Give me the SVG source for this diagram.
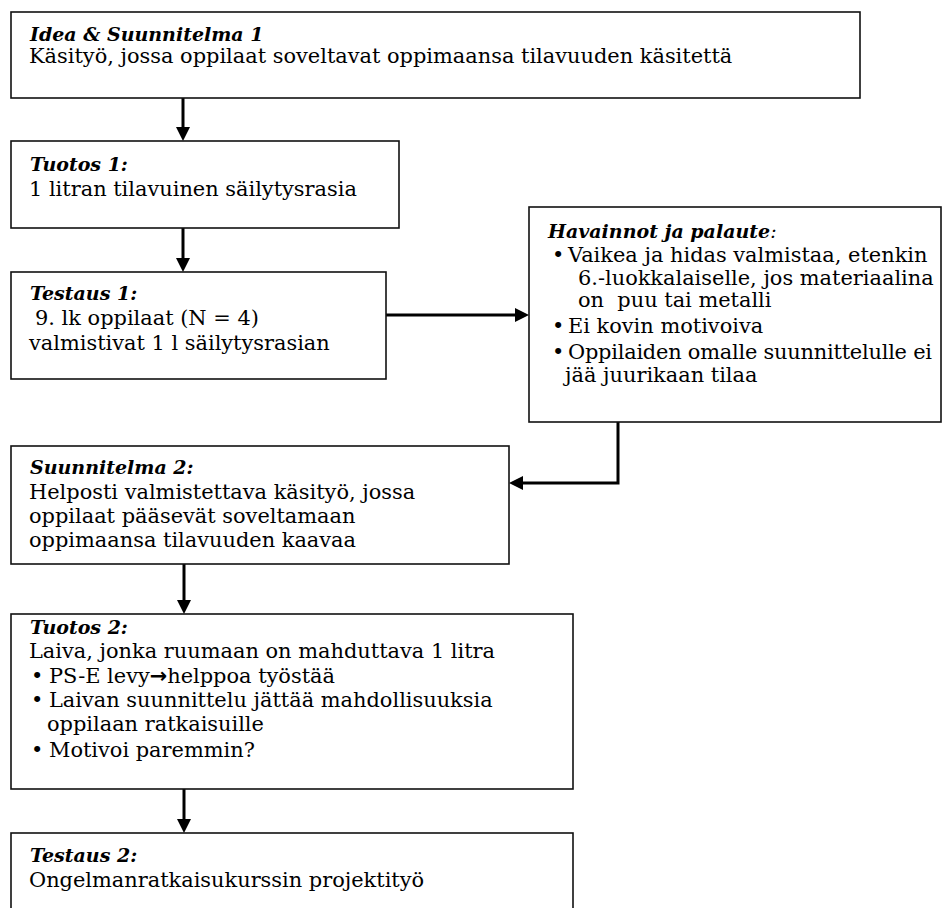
<svg xmlns="http://www.w3.org/2000/svg" width="950" height="908" viewBox="0 0 950 908">
  <defs>
    <marker id="head" viewBox="0 0 14 14" markerWidth="14" markerHeight="14" markerUnits="userSpaceOnUse" refX="0" refY="7" orient="auto">
      <path d="M0,0 L14,7 L0,14 Z" fill="#000"/>
    </marker>
    <style>
      .box { fill: #fff; stroke: #111; stroke-width: 1.6; }
      .t { font-family: "DejaVu Serif", "Liberation Serif", serif; font-size: 20.9px; fill: #000; }
      .h { font-style: italic; font-weight: bold; font-size: 19px; }
      .plain { font-weight: normal; }
      .arrowglyph { font-family: "DejaVu Sans", sans-serif; font-weight: bold; }
      .wire { fill: none; stroke: #000; stroke-width: 3; marker-end: url(#head); }
    </style>
  </defs>

  <rect x="0" y="0" width="950" height="908" fill="#fff"/>

  <!-- connectors -->
  <g id="connectors">
    <path class="wire" d="M183,98 V127"/>
    <path class="wire" d="M183,228 V258"/>
    <path class="wire" d="M386,315 H515"/>
    <path class="wire" d="M618,422 V483 H523"/>
    <path class="wire" d="M184,564 V600"/>
    <path class="wire" d="M184,789 V819"/>
  </g>

  <g id="idea-suunnitelma-1">
    <rect class="box" x="11" y="12" width="849" height="86"/>
    <text class="t h" x="30" y="41">Idea &amp; Suunnitelma 1</text>
    <text class="t" x="29" y="63">Käsityö, jossa oppilaat soveltavat oppimaansa tilavuuden käsitettä</text>
  </g>

  <g id="tuotos-1">
    <rect class="box" x="11" y="141" width="388" height="87"/>
    <text class="t h" x="30" y="171">Tuotos 1:</text>
    <text class="t" x="29" y="196">1 litran tilavuinen säilytysrasia</text>
  </g>

  <g id="testaus-1">
    <rect class="box" x="11" y="272" width="375" height="107"/>
    <text class="t h" x="30" y="300">Testaus 1:</text>
    <text class="t" x="35" y="325">9. lk oppilaat (N = 4)</text>
    <text class="t" x="29" y="350">valmistivat 1 l säilytysrasian</text>
  </g>

  <g id="havainnot">
    <rect class="box" x="529" y="207" width="412" height="215"/>
    <text class="t h" x="548" y="238">Havainnot ja palaute<tspan class="plain">:</tspan></text>
    <text class="t" x="552" y="262">•</text>
    <text class="t" x="568" y="262">Vaikea ja hidas valmistaa, etenkin</text>
    <text class="t" x="578" y="285">6.-luokkalaiselle, jos materiaalina</text>
    <text class="t" x="578" y="307" xml:space="preserve">on  puu tai metalli</text>
    <text class="t" x="552" y="333">•</text>
    <text class="t" x="568" y="333">Ei kovin motivoiva</text>
    <text class="t" x="552" y="359">•</text>
    <text class="t" x="568" y="359" textLength="364">Oppilaiden omalle suunnittelulle ei</text>
    <text class="t" x="565" y="382">jää juurikaan tilaa</text>
  </g>

  <g id="suunnitelma-2">
    <rect class="box" x="11" y="446" width="498" height="118"/>
    <text class="t h" x="30" y="474">Suunnitelma 2:</text>
    <text class="t" x="29" y="499">Helposti valmistettava käsityö, jossa</text>
    <text class="t" x="29" y="523">oppilaat pääsevät soveltamaan</text>
    <text class="t" x="29" y="547">oppimaansa tilavuuden kaavaa</text>
  </g>

  <g id="tuotos-2">
    <rect class="box" x="11" y="614" width="562" height="175"/>
    <text class="t h" x="30" y="634">Tuotos 2:</text>
    <text class="t" x="29" y="658">Laiva, jonka ruumaan on mahduttava 1 litra</text>
    <text class="t" x="31" y="683">•</text>
    <text class="t" x="49" y="683">PS-E levy<tspan class="arrowglyph">→</tspan>helppoa työstää</text>
    <text class="t" x="31" y="707">•</text>
    <text class="t" x="49" y="707">Laivan suunnittelu jättää mahdollisuuksia</text>
    <text class="t" x="47" y="731">oppilaan ratkaisuille</text>
    <text class="t" x="31" y="757">•</text>
    <text class="t" x="49" y="757">Motivoi paremmin?</text>
  </g>

  <g id="testaus-2">
    <rect class="box" x="11" y="833" width="562" height="90"/>
    <text class="t h" x="30" y="862">Testaus 2:</text>
    <text class="t" x="29" y="887">Ongelmanratkaisukurssin projektityö</text>
  </g>
</svg>
